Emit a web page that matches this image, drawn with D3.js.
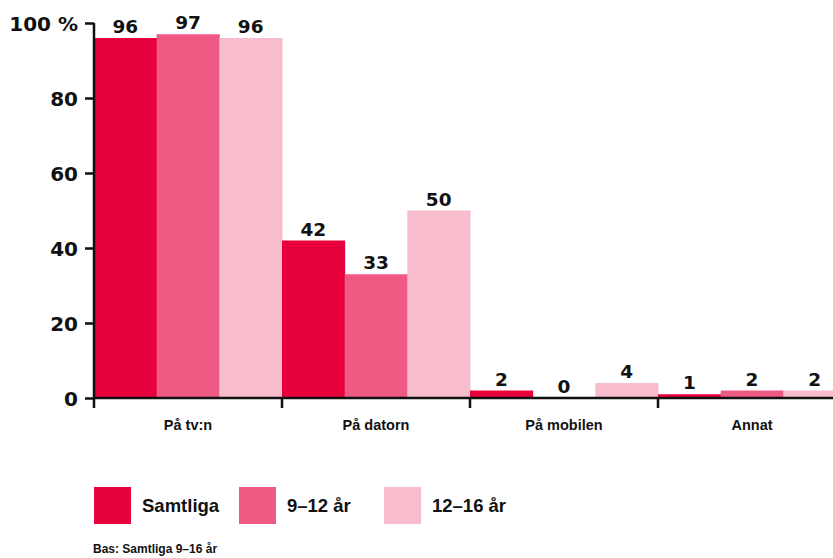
<!DOCTYPE html>
<html><head><meta charset="utf-8">
<script src="https://cdn.jsdelivr.net/npm/d3@7"></script>
<style>body{margin:0;background:#fff;overflow:hidden}svg{display:block}</style>
</head><body><svg id="c" width="833" height="558"></svg>
<script>
const categories = ["På tv:n", "På datorn", "På mobilen", "Annat"];
const seriesNames = ["Samtliga", "9–12 år", "12–16 år"];
const samtliga = [96, 42, 2, 1];
const age9to12 = [97, 33, 0, 2];
const age12to16 = [96, 50, 4, 2];
const yTicks = [0, 20, 40, 60, 80, 100];
const colors = ["#E6003C", "#EE5A83", "#F8BDCC"];
const footnote = "Bas: Samtliga 9–16 år";

const series = [samtliga, age9to12, age12to16];
const svg = d3.select("#c");
const x0 = d3.scaleBand().domain(categories).range([94, 846]).padding(0);
const x1 = d3.scaleBand().domain(d3.range(series.length)).range([0, x0.bandwidth()]).padding(0);
const y = d3.scaleLinear().domain([0, 100]).range([398, 23]);

const g = svg.append("g");
categories.forEach((c, ci) => {
  series.forEach((s, si) => {
    const v = s[ci];
    g.append("rect")
      .attr("x", x0(c) + x1(si))
      .attr("y", y(v))
      .attr("width", x1.bandwidth() + 0.5)
      .attr("height", y(0) - y(v))
      .attr("fill", colors[si]);
    g.append("text")
      .attr("x", x0(c) + x1(si) + x1.bandwidth() / 2)
      .attr("y", y(v) - 5)
      .attr("text-anchor", "middle")
      .attr("font-family", "DejaVu Sans")
      .attr("font-weight", "bold")
      .attr("font-size", 18.5)
      .attr("fill", "#111")
      .text(v);
  });
});

// Y axis
const yAxis = svg.append("g").attr("transform", "translate(94,0)")
  .call(d3.axisLeft(y).tickValues(yTicks).tickSize(9).tickPadding(7)
    .tickFormat(d => d === 100 ? "100 %" : d));
yAxis.select(".domain").attr("stroke", "#111").attr("stroke-width", 2.5).attr("d", "M0,23V398");
yAxis.selectAll(".tick line").attr("stroke", "#111").attr("stroke-width", 2.5);
yAxis.selectAll(".tick text").attr("font-family", "DejaVu Sans").attr("font-weight", "bold")
  .attr("font-size", 20).attr("fill", "#111").attr("dy", "0.36em");

// X axis
const xAxis = svg.append("g").attr("transform", "translate(0,398)")
  .call(d3.axisBottom(x0).tickSize(0).tickPadding(22));
xAxis.select(".domain").attr("stroke", "#111").attr("stroke-width", 2.5).attr("d", "M93,0H846");
xAxis.selectAll(".tick text").attr("font-family", "Liberation Sans").attr("font-weight", "bold")
  .attr("font-size", 14.5).attr("fill", "#111");
categories.forEach(c => {
  xAxis.append("line").attr("x1", x0(c)).attr("x2", x0(c)).attr("y1", 0).attr("y2", 10)
    .attr("stroke", "#111").attr("stroke-width", 2.5);
});

// Legend
const legX = [94, 239, 384];
seriesNames.forEach((n, i) => {
  svg.append("rect").attr("x", legX[i]).attr("y", 487).attr("width", 37).attr("height", 37).attr("fill", colors[i]);
  svg.append("text").attr("x", legX[i] + 48).attr("y", 512)
    .attr("font-family", "Liberation Sans").attr("font-weight", "bold").attr("font-size", 18.5)
    .attr("fill", "#111").text(n);
});

svg.append("text").attr("x", 93).attr("y", 553)
  .attr("font-family", "Liberation Sans").attr("font-weight", "bold").attr("font-size", 12)
  .attr("fill", "#111").text(footnote);
</script></body></html>
